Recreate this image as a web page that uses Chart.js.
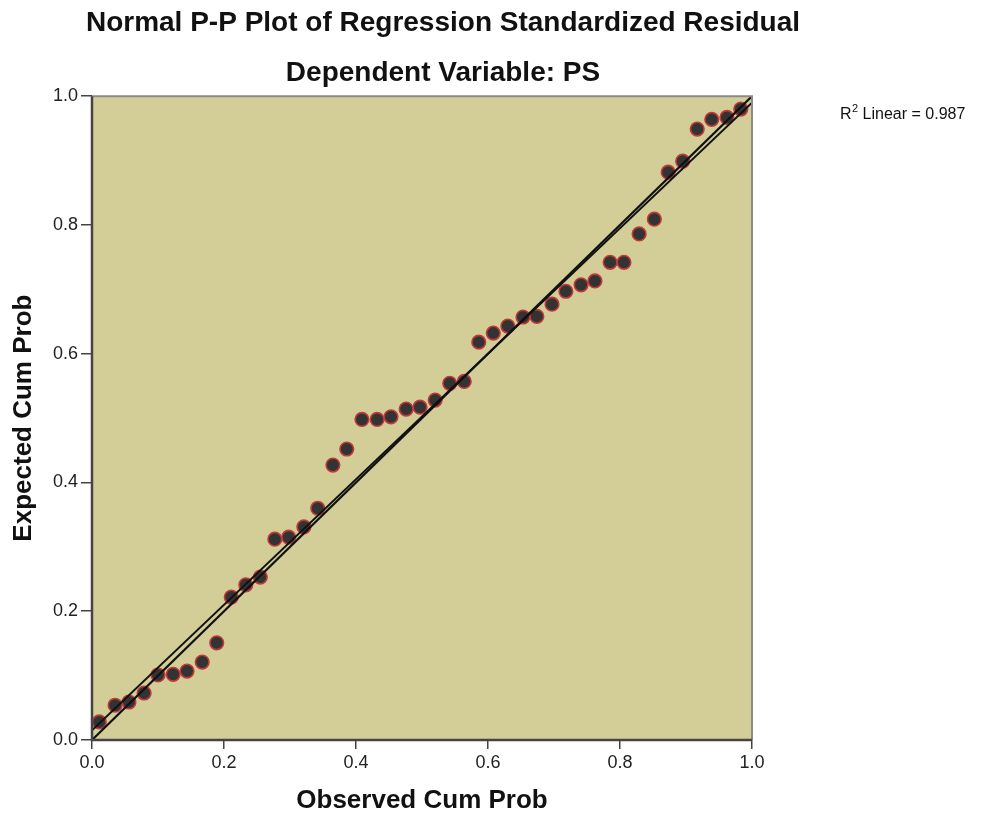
<!DOCTYPE html>
<html><head><meta charset="utf-8">
<script src="https://cdn.jsdelivr.net/npm/chart.js@4.4.1/dist/chart.umd.min.js"></script>
<style>html,body{margin:0;padding:0;background:#fff;}canvas{display:block;}</style>
</head><body>
<canvas id="c" width="998" height="816" style="width:998px;height:816px"></canvas>
<script>
// ---- data ----
const observedCumProb = [0.011,0.035,0.056,0.079,0.100,0.123,0.144,0.167,0.189,0.211,0.233,0.255,0.277,0.298,0.321,0.342,0.365,0.386,0.409,0.432,0.453,0.476,0.497,0.520,0.542,0.564,0.586,0.608,0.630,0.653,0.674,0.697,0.718,0.741,0.762,0.785,0.806,0.829,0.852,0.873,0.895,0.917,0.939,0.962,0.983];
const expectedCumProb = [0.028,0.054,0.059,0.073,0.101,0.102,0.107,0.121,0.151,0.222,0.241,0.253,0.312,0.315,0.331,0.360,0.427,0.452,0.498,0.498,0.502,0.514,0.517,0.528,0.554,0.557,0.618,0.632,0.643,0.657,0.658,0.677,0.697,0.707,0.713,0.742,0.742,0.786,0.809,0.882,0.899,0.949,0.964,0.967,0.980];
const tickValues = [0.0,0.2,0.4,0.6,0.8,1.0];
const referenceLine = [0, 1];          // y = x diagonal, intercept & slope
const fitLine = [0.015, 0.975];        // R² linear fit, intercept & slope
const titleText = 'Normal P-P Plot of Regression Standardized Residual';
const subtitleText = 'Dependent Variable: PS';
const xTitle = 'Observed Cum Prob';
const yTitle = 'Expected Cum Prob';
const r2Text = ['R', '2', ' Linear = 0.987'];

const FONT = "'Liberation Sans', Arial, Helvetica, sans-serif";
const points = observedCumProb.map((x, i) => ({x, y: expectedCumProb[i]}));
const lineData = (l) => [0, 1].map(x => ({x, y: l[0] + l[1] * x}));

const framePlugin = {
  id: 'frame',
  beforeDatasetsDraw(chart) {
    const {ctx, chartArea: a} = chart;
    ctx.save();
    ctx.fillStyle = '#d3ce98';
    ctx.fillRect(a.left, a.top, a.right - a.left, a.bottom - a.top);
    ctx.restore();
  },
  afterDatasetsDraw(chart) {
    const {ctx, chartArea: a} = chart;
    ctx.save();
    ctx.lineWidth = 2;
    ctx.strokeStyle = '#8a8a8a';
    ctx.beginPath();
    ctx.moveTo(a.left, a.top); ctx.lineTo(a.right, a.top); ctx.lineTo(a.right, a.bottom);
    ctx.stroke();
    ctx.strokeStyle = '#444';
    ctx.lineWidth = 2.5;
    ctx.beginPath();
    ctx.moveTo(a.left, a.top); ctx.lineTo(a.left, a.bottom); ctx.lineTo(a.right, a.bottom);
    ctx.stroke();
    ctx.restore();
  },
  afterDraw(chart) {
    const {ctx} = chart;
    ctx.save();
    ctx.fillStyle = '#111';
    ctx.textBaseline = 'alphabetic';
    let x = 840, y = 119;
    ctx.font = '16px ' + FONT;
    ctx.fillText(r2Text[0], x, y);
    x += ctx.measureText(r2Text[0]).width;
    ctx.font = '11px ' + FONT;
    ctx.fillText(r2Text[1], x + 0.5, y - 7);
    x += ctx.measureText(r2Text[1]).width + 0.5;
    ctx.font = '16px ' + FONT;
    ctx.fillText(r2Text[2], x, y);
    ctx.restore();
  }
};

const axisTicks = {
  font: {family: FONT, size: 18},
  color: '#222',
  padding: 3,
  callback: v => Number(v).toFixed(1)
};

new Chart(document.getElementById('c'), {
  type: 'scatter',
  data: {
    datasets: [
      {
        label: 'Fit', type: 'line', data: lineData(fitLine), order: 0,
        borderColor: '#111', borderWidth: 2, pointRadius: 0, fill: false
      },
      {
        label: 'Reference', type: 'line', data: lineData(referenceLine), order: 0,
        borderColor: '#111', borderWidth: 2.2, pointRadius: 0, fill: false
      },
      {
        label: 'Residuals', data: points, order: 1,
        pointRadius: 6.8, pointBackgroundColor: '#333333',
        pointBorderColor: '#c0393b', pointBorderWidth: 1.6
      }
    ]
  },
  options: {
    responsive: false,
    animation: false,
    devicePixelRatio: 1,
    layout: {padding: {left: 0, right: 112, top: 0, bottom: 0}},
    plugins: {
      legend: {display: false},
      tooltip: {enabled: false},
      title: {
        display: true, text: titleText, color: '#111',
        font: {family: FONT, size: 28, weight: 'bold'},
        padding: {top: 6, bottom: 0}
      },
      subtitle: {
        display: true, text: subtitleText, color: '#111',
        font: {family: FONT, size: 28, weight: 'bold'},
        padding: {top: 17, bottom: 6}
      }
    },
    scales: {
      x: {
        type: 'linear', min: 0, max: 1,
        afterBuildTicks: s => { s.ticks = tickValues.map(v => ({value: v})); },
        afterFit: s => { s.height = 76; },
        ticks: axisTicks,
        grid: {drawOnChartArea: false, drawTicks: true, tickLength: 9, color: '#444', lineWidth: 1.5},
        border: {display: false},
        title: {display: true, text: xTitle, color: '#111',
          font: {family: FONT, size: 26, weight: 'bold'}, padding: {top: 0, bottom: 0}}
      },
      y: {
        type: 'linear', min: 0, max: 1,
        afterBuildTicks: s => { s.ticks = tickValues.map(v => ({value: v})); },
        afterFit: s => { s.width = 92; },
        ticks: axisTicks,
        grid: {drawOnChartArea: false, drawTicks: true, tickLength: 11, color: '#444', lineWidth: 1.5},
        border: {display: false},
        title: {display: true, text: yTitle, color: '#111',
          font: {family: FONT, size: 26, weight: 'bold'}, padding: {top: 8, bottom: 0}}
      },
      yRight: {
        type: 'linear', position: 'right', min: 0, max: 1, display: true,
        afterFit: s => { s.width = 134; },
        ticks: {display: false},
        grid: {display: false},
        border: {display: false}
      }
    }
  },
  plugins: [framePlugin]
});
</script>
</body></html>
